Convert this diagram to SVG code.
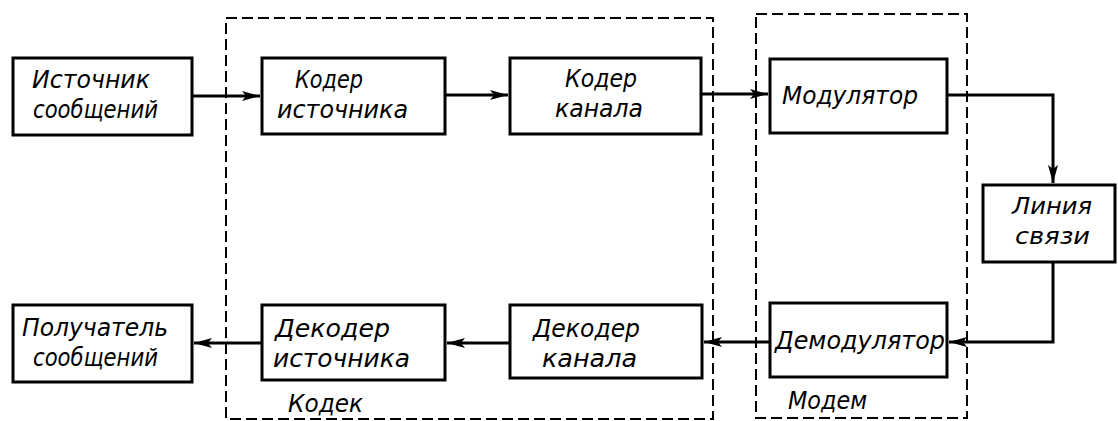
<svg xmlns="http://www.w3.org/2000/svg" width="1118" height="421" viewBox="0 0 1118 421">
<style>
.box{fill:#fff;stroke:#000;stroke-width:3}
.grp{fill:none;stroke:#000;stroke-width:2;stroke-dasharray:11 5}
.wire{fill:none;stroke:#000;stroke-width:3}
.t{font-family:"DejaVu Sans","Liberation Sans",sans-serif;font-style:italic;font-size:25px;fill:#000}
.s{font-size:23px}
</style>
<defs>
<marker id="ah" viewBox="0 0 18 10" refX="18" refY="5" markerWidth="18" markerHeight="10" markerUnits="userSpaceOnUse" orient="auto">
<path d="M0,0 L18,5 L0,10 L4,5 Z" fill="#000"/>
</marker>
</defs>
<rect width="1118" height="421" fill="#fff"/>
<g id="codec">
<rect class="grp" x="226" y="18" width="487" height="401"/>
<text class="t" x="288" y="412" textLength="75" lengthAdjust="spacingAndGlyphs">Кодек</text>
</g>
<g id="modem">
<rect class="grp" x="756" y="14" width="211" height="404"/>
<text class="t" x="788" y="409" textLength="79" lengthAdjust="spacingAndGlyphs">Модем</text>
</g>
<g id="connectors">
<path class="wire" d="M192,96 H260" marker-end="url(#ah)"/>
<path class="wire" d="M445,95 H508" marker-end="url(#ah)"/>
<path class="wire" d="M701,94 H768" marker-end="url(#ah)"/>
<path class="wire" d="M947,95 H1053 V183" marker-end="url(#ah)"/>
<path class="wire" d="M1053,262 V342 H949" marker-end="url(#ah)"/>
<path class="wire" d="M770,342 H704" marker-end="url(#ah)"/>
<path class="wire" d="M510,343 H447" marker-end="url(#ah)"/>
<path class="wire" d="M262,343 H194" marker-end="url(#ah)"/>
</g>
<g id="source">
<rect class="box" x="13" y="58" width="179" height="77"/>
<text class="t" x="32" y="88" textLength="118" lengthAdjust="spacingAndGlyphs">Источник</text>
<text class="t" x="33" y="118" textLength="125" lengthAdjust="spacingAndGlyphs">сообщений</text>
</g>
<g id="source-coder">
<rect class="box" x="262" y="58" width="183" height="76"/>
<text class="t" x="295" y="88" textLength="68" lengthAdjust="spacingAndGlyphs">Кодер</text>
<text class="t" x="277" y="118" textLength="131" lengthAdjust="spacingAndGlyphs">источника</text>
</g>
<g id="channel-coder">
<rect class="box" x="510" y="58" width="191" height="76"/>
<text class="t" x="565" y="87" textLength="72" lengthAdjust="spacingAndGlyphs">Кодер</text>
<text class="t" x="555" y="117" textLength="88" lengthAdjust="spacingAndGlyphs">канала</text>
</g>
<g id="modulator">
<rect class="box" x="770" y="59" width="177" height="74"/>
<text class="t" x="782" y="104" textLength="136" lengthAdjust="spacingAndGlyphs">Модулятор</text>
</g>
<g id="line">
<rect class="box" x="983" y="185" width="132" height="77"/>
<text class="t s" x="1012" y="214" textLength="80" lengthAdjust="spacingAndGlyphs">Линия</text>
<text class="t s" x="1015" y="244" textLength="75" lengthAdjust="spacingAndGlyphs">связи</text>
</g>
<g id="demodulator">
<rect class="box" x="770" y="303" width="177" height="74"/>
<text class="t" x="775" y="349" textLength="170" lengthAdjust="spacingAndGlyphs">Демодулятор</text>
</g>
<g id="channel-decoder">
<rect class="box" x="510" y="305" width="192" height="73"/>
<text class="t" x="533" y="337" textLength="107" lengthAdjust="spacingAndGlyphs">Декодер</text>
<text class="t" x="542" y="367" textLength="95" lengthAdjust="spacingAndGlyphs">канала</text>
</g>
<g id="source-decoder">
<rect class="box" x="262" y="305" width="183" height="75"/>
<text class="t" x="275" y="337" textLength="115" lengthAdjust="spacingAndGlyphs">Декодер</text>
<text class="t" x="273" y="367" textLength="137" lengthAdjust="spacingAndGlyphs">источника</text>
</g>
<g id="receiver">
<rect class="box" x="13" y="305" width="179" height="77"/>
<text class="t" x="22" y="336" textLength="146" lengthAdjust="spacingAndGlyphs">Получатель</text>
<text class="t" x="33" y="366" textLength="125" lengthAdjust="spacingAndGlyphs">сообщений</text>
</g>
</svg>
